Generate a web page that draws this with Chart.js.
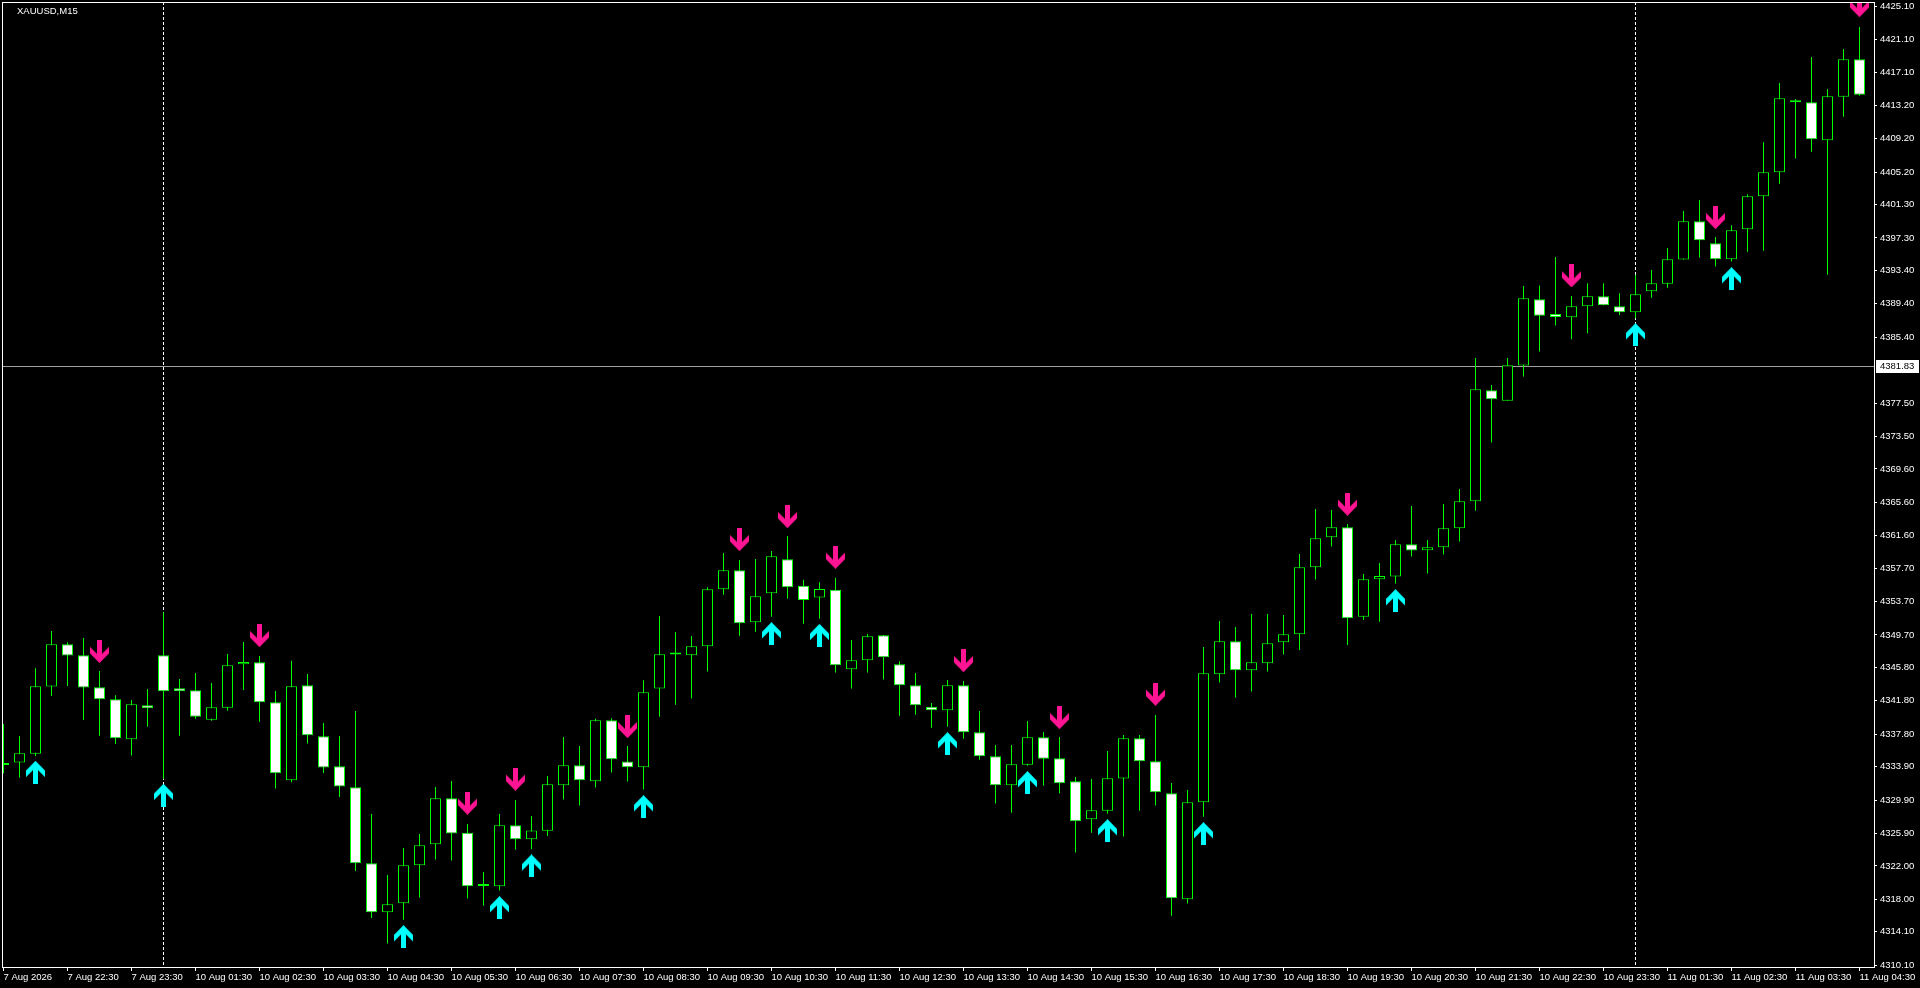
<!DOCTYPE html>
<html>
<head>
<meta charset="utf-8">
<title>XAUUSD,M15</title>
<script src="https://cdn.jsdelivr.net/npm/chart.js@4.4.1/dist/chart.umd.min.js"></script>
<style>
  html, body { margin: 0; padding: 0; background: #000; overflow: hidden; }
  #grafico { display: block; background: #000; }
</style>
</head>
<body>
<canvas id="grafico" width="1920" height="988"></canvas>
<script>
const simbolo = "XAUUSD,M15";

//one label every 4 bars (M15 -> 1 hour)
const rotulos_tempo = [
  "7 Aug 2026", "7 Aug 22:30", "7 Aug 23:30",
  "10 Aug 01:30", "10 Aug 02:30", "10 Aug 03:30", "10 Aug 04:30", "10 Aug 05:30", "10 Aug 06:30",
  "10 Aug 07:30", "10 Aug 08:30", "10 Aug 09:30", "10 Aug 10:30", "10 Aug 11:30", "10 Aug 12:30",
  "10 Aug 13:30", "10 Aug 14:30", "10 Aug 15:30", "10 Aug 16:30", "10 Aug 17:30", "10 Aug 18:30",
  "10 Aug 19:30", "10 Aug 20:30", "10 Aug 21:30", "10 Aug 22:30", "10 Aug 23:30",
  "11 Aug 01:30", "11 Aug 02:30", "11 Aug 03:30", "11 Aug 04:30"
];

const abertura = [
  4334.11, 4334.39, 4335.46, 4343.50, 4348.57, 4347.26, 4343.42, 4341.98, 4337.18, 4341.26,
  4347.26, 4343.30, 4343.06, 4339.54, 4340.98, 4346.18, 4346.42, 4341.62, 4332.27, 4343.66,
  4337.55, 4333.95, 4331.43, 4322.32, 4316.44, 4317.52, 4322.08, 4324.60, 4330.11, 4325.99,
  4319.60, 4319.56, 4326.87, 4325.20, 4326.23, 4331.67, 4334.07, 4332.15, 4339.46, 4334.51,
  4333.83, 4343.26, 4347.34, 4347.26, 4348.33, 4355.17, 4357.45, 4351.21, 4354.69, 4358.77,
  4355.60, 4354.20, 4355.10, 4345.58, 4346.65, 4349.65, 4346.17, 4343.66, 4341.10, 4340.66,
  4343.66, 4338.02, 4335.14, 4331.67, 4334.14, 4337.42, 4334.91, 4332.15, 4327.59, 4328.63,
  4332.47, 4337.31, 4334.55, 4330.71, 4318.00, 4329.63, 4344.98, 4348.94, 4345.46, 4346.30,
  4348.82, 4349.78, 4357.81, 4361.41, 4362.61, 4351.89, 4356.37, 4356.69, 4360.57, 4359.85,
  4360.21, 4362.49, 4365.72, 4379.03, 4377.79, 4381.99, 4389.94, 4388.18, 4387.78, 4389.10,
  4390.30, 4389.10, 4388.38, 4390.90, 4391.82, 4394.70, 4399.29, 4396.65, 4394.74, 4398.33,
  4402.29, 4405.17, 4413.80, 4413.56, 4409.00, 4414.24, 4418.72
];
const maxima = [
  4339.02, 4337.58, 4345.70, 4350.17, 4348.81, 4349.33, 4345.38, 4342.46, 4341.90, 4343.22,
  4352.41, 4344.42, 4345.14, 4343.94, 4347.42, 4348.85, 4347.18, 4342.98, 4346.60, 4345.00,
  4339.14, 4337.59, 4340.58, 4328.23, 4320.92, 4324.16, 4325.83, 4331.47, 4332.19, 4327.03,
  4321.28, 4328.23, 4329.91, 4327.99, 4332.79, 4337.46, 4336.38, 4339.66, 4339.70, 4336.38,
  4344.26, 4351.97, 4350.05, 4349.57, 4355.41, 4359.53, 4358.69, 4358.81, 4359.77, 4361.56,
  4356.30, 4356.00, 4356.55, 4349.09, 4349.81, 4349.69, 4346.53, 4345.14, 4341.54, 4344.30,
  4344.18, 4340.58, 4336.50, 4336.50, 4339.38, 4338.06, 4337.47, 4332.67, 4332.43, 4335.79,
  4337.71, 4337.71, 4340.10, 4331.95, 4331.11, 4348.26, 4351.37, 4350.66, 4352.21, 4352.21,
  4352.09, 4359.41, 4364.80, 4364.68, 4363.00, 4357.01, 4358.33, 4361.09, 4365.16, 4361.09,
  4365.40, 4367.20, 4382.91, 4379.67, 4382.91, 4391.54, 4391.60, 4395.00, 4390.34, 4391.86,
  4391.86, 4390.66, 4392.86, 4393.46, 4396.09, 4400.53, 4401.85, 4397.41, 4398.81, 4402.53,
  4408.76, 4415.88, 4413.96, 4419.00, 4415.16, 4419.95, 4422.59
];
const minima = [
  4333.11, 4332.59, 4335.18, 4342.38, 4343.58, 4339.50, 4337.62, 4336.62, 4335.23, 4338.70,
  4332.43, 4337.62, 4339.66, 4339.42, 4340.62, 4343.10, 4339.30, 4331.27, 4332.03, 4336.67,
  4333.15, 4330.27, 4321.40, 4315.76, 4312.69, 4315.56, 4318.20, 4322.76, 4322.64, 4318.08,
  4317.24, 4319.04, 4323.96, 4324.00, 4325.60, 4329.95, 4329.23, 4331.39, 4333.19, 4332.11,
  4331.15, 4339.90, 4341.34, 4342.06, 4345.30, 4354.53, 4349.61, 4350.09, 4351.89, 4354.05,
  4351.05, 4351.65, 4345.18, 4343.26, 4345.18, 4344.34, 4340.02, 4340.14, 4338.58, 4338.70,
  4337.26, 4334.74, 4329.47, 4328.39, 4334.02, 4331.63, 4330.71, 4323.60, 4325.99, 4328.27,
  4325.52, 4328.63, 4329.23, 4316.04, 4317.48, 4327.91, 4343.98, 4342.18, 4342.90, 4345.30,
  4347.34, 4347.90, 4356.33, 4360.29, 4348.50, 4351.49, 4351.29, 4355.85, 4359.09, 4357.05,
  4359.33, 4360.89, 4364.60, 4372.76, 4377.79, 4380.67, 4383.67, 4386.79, 4385.14, 4385.86,
  4389.22, 4388.06, 4387.66, 4390.14, 4391.34, 4394.70, 4394.94, 4393.86, 4394.46, 4395.65,
  4395.77, 4403.81, 4406.81, 4407.64, 4392.90, 4411.84, 4414.36
];
const fechamento = [
  4334.35, 4335.50, 4343.54, 4348.57, 4347.22, 4343.38, 4341.98, 4337.30, 4341.38, 4340.90,
  4342.94, 4342.94, 4339.90, 4341.02, 4346.06, 4346.46, 4341.62, 4333.11, 4343.54, 4337.67,
  4333.79, 4331.51, 4322.32, 4316.44, 4317.40, 4322.08, 4324.48, 4330.11, 4325.88, 4319.56,
  4319.60, 4326.87, 4325.20, 4326.25, 4331.79, 4334.07, 4332.27, 4339.46, 4334.79, 4333.83,
  4342.82, 4347.38, 4347.34, 4348.33, 4355.17, 4357.45, 4351.09, 4354.33, 4359.13, 4355.41,
  4353.90, 4355.20, 4346.06, 4346.65, 4349.53, 4347.01, 4343.66, 4341.26, 4340.66, 4343.66,
  4338.02, 4335.14, 4331.67, 4334.18, 4337.42, 4334.86, 4331.91, 4327.35, 4328.67, 4332.51,
  4337.31, 4334.55, 4330.83, 4318.12, 4329.63, 4345.10, 4348.94, 4345.46, 4346.42, 4348.70,
  4349.78, 4357.81, 4361.29, 4362.61, 4351.69, 4356.37, 4356.77, 4360.57, 4359.81, 4360.21,
  4362.49, 4365.72, 4379.15, 4377.95, 4382.03, 4390.06, 4387.98, 4387.82, 4389.10, 4390.30,
  4389.22, 4388.38, 4390.54, 4391.86, 4394.74, 4399.29, 4397.01, 4394.74, 4398.21, 4402.29,
  4405.17, 4414.04, 4413.56, 4409.12, 4414.28, 4418.72, 4414.48
];

//signal arrows: bar index and price where the arrow sits
const setas_venda_barras = [6, 16, 29, 32, 39, 46, 49, 52, 60, 66, 72, 84, 98, 107, 116];
const setas_venda_precos = [4347.70, 4349.61, 4329.51, 4332.39, 4338.70, 4361.12, 4363.88, 4359.00,
  4346.61, 4339.78, 4342.58, 4365.36, 4392.74, 4399.73, 4425.15];
const setas_compra_barras = [2, 10, 25, 31, 33, 40, 48, 51, 59, 64, 69, 75, 87, 102, 108];
const setas_compra_precos = [4333.23, 4330.47, 4313.52, 4317.00, 4322.00, 4329.11, 4349.85, 4349.65,
  4336.66, 4331.99, 4326.23, 4325.87, 4353.81, 4385.70, 4392.42];

const precos_eixo = [
  4425.10, 4421.10, 4417.10, 4413.20, 4409.20, 4405.20, 4401.30, 4397.30, 4393.40, 4389.40,
  4385.40, 4377.50, 4373.50, 4369.60, 4365.60, 4361.60, 4357.70, 4353.70, 4349.70, 4345.80,
  4341.80, 4337.80, 4333.90, 4329.90, 4325.90, 4322.00, 4318.00, 4314.10, 4310.10
];
const preco_linha = 4381.83;
const separadores_dia = [10, 102];

const cor_verde = "#00ff00";
const fonte_eixo = { family: "Liberation Sans", size: 9.5 };

//Wingdings style thick arrow drawn on a small canvas
function criarSeta(cor, para_baixo) {
  const tela = document.createElement("canvas");
  tela.width = 19;
  tela.height = 23;
  const g = tela.getContext("2d");
  let pontos = [[7, 0], [12, 0], [12, 13.7], [19, 6.7], [19, 13.3], [9.5, 23], [0, 13.3], [0, 6.7], [7, 13.7]];
  if (!para_baixo) pontos = pontos.map(([x, y]) => [x, 23 - y]);
  g.fillStyle = cor;
  g.beginPath();
  pontos.forEach(([x, y], k) => (k ? g.lineTo(x, y) : g.moveTo(x, y)));
  g.closePath();
  g.fill();
  return tela;
}

const indices = abertura.map((_, i) => i);

//separators, price line, frame and the symbol name
const plugin_moldura = {
  id: "moldura",
  beforeDatasetsDraw(chart) {
    const { ctx, chartArea, scales } = chart;
    ctx.save();
    ctx.strokeStyle = "#ffffff";
    ctx.lineWidth = 1;
    ctx.setLineDash([3, 2]);
    separadores_dia.forEach((barra) => {
      const x = Math.floor(scales.x.getPixelForValue(barra)) + 0.5;
      ctx.beginPath();
      ctx.moveTo(x, chartArea.top);
      ctx.lineTo(x, chartArea.bottom);
      ctx.stroke();
    });
    ctx.setLineDash([]);
    const y = Math.floor(scales.y.getPixelForValue(preco_linha)) + 0.5;
    ctx.strokeStyle = "#a0a0a0";
    ctx.beginPath();
    ctx.moveTo(chartArea.left, y);
    ctx.lineTo(chartArea.right, y);
    ctx.stroke();
    ctx.restore();
  },
  afterDraw(chart) {
    const { ctx, chartArea, scales } = chart;
    ctx.save();
    ctx.strokeStyle = "#ffffff";
    ctx.lineWidth = 1;
    ctx.strokeRect(chartArea.left + 0.5, chartArea.top + 0.5,
      chartArea.right - chartArea.left, chartArea.bottom - chartArea.top);

    const y = Math.floor(scales.y.getPixelForValue(preco_linha));
    ctx.fillStyle = "#ffffff";
    ctx.fillRect(chartArea.right + 2, y - 6, 43, 13);
    ctx.fillStyle = "#000000";
    ctx.font = "9.5px 'Liberation Sans'";
    ctx.textBaseline = "middle";
    ctx.fillText(preco_linha.toFixed(2), chartArea.right + 6, y + 0.5);

    ctx.fillStyle = "#ffffff";
    ctx.fillText(simbolo, 17, 11);
    ctx.restore();
  }
};

new Chart(document.getElementById("grafico"), {
  type: "bar",
  data: {
    datasets: [
      {
        type: "scatter",
        data: setas_venda_barras.map((b, k) => ({ x: b, y: setas_venda_precos[k] })),
        pointStyle: criarSeta("#ff1493", true),
        order: 1,
        clip: 0,
      },
      {
        type: "scatter",
        data: setas_compra_barras.map((b, k) => ({ x: b, y: setas_compra_precos[k] })),
        pointStyle: criarSeta("#00ffff", false),
        order: 1,
        clip: 0,
      },
      {
        data: indices.map((i) => ({ x: i, y: [abertura[i], fechamento[i]] })),
        backgroundColor: (c) => (fechamento[c.dataIndex] < abertura[c.dataIndex] ? "#ffffff" : "#000000"),
        borderColor: cor_verde,
        borderWidth: 1,
        borderSkipped: false,
        barThickness: 11,
        maxBarThickness: 11,
        minBarLength: 2,
        inflateAmount: 0,
        grouped: false,
        order: 2,
        clip: 0,
      },
      {
        data: indices.map((i) => ({ x: i, y: [minima[i], maxima[i]] })),
        backgroundColor: cor_verde,
        borderWidth: 0,
        barThickness: 1,
        maxBarThickness: 1,
        inflateAmount: 0,
        grouped: false,
        order: 3,
        clip: 0,
      },
    ],
  },
  options: {
    responsive: false,
    animation: false,
    events: [],
    layout: { autoPadding: false, padding: { left: 2, top: 2, right: 0, bottom: 0 } },
    plugins: {
      legend: { display: false },
      tooltip: { enabled: false },
      title: { display: false },
    },
    scales: {
      x: {
        type: "linear",
        min: -0.09375,
        max: 116.90625,
        offset: false,
        afterBuildTicks: (escala) => {
          escala.ticks = rotulos_tempo.map((_, k) => ({ value: k * 4 }));
        },
        afterFit: (escala) => {
          escala.height = 21;
          escala.paddingLeft = 0;
          escala.paddingRight = 0;
        },
        grid: { drawOnChartArea: false, drawTicks: true, tickLength: 4, color: "#ffffff", offset: false },
        border: { display: false },
        ticks: {
          autoSkip: false,
          maxRotation: 0,
          minRotation: 0,
          align: "start",
          labelOffset: 0,
          padding: 1,
          color: "#ffffff",
          font: fonte_eixo,
          callback: (valor) => rotulos_tempo[Math.round(valor / 4)],
        },
      },
      y: {
        position: "right",
        min: 4309.88,
        max: 4425.59,
        afterBuildTicks: (escala) => {
          escala.ticks = precos_eixo.map((p) => ({ value: p }));
        },
        afterFit: (escala) => {
          escala.width = 46;
          escala.paddingTop = 0;
          escala.paddingBottom = 0;
        },
        grid: { drawOnChartArea: false, drawTicks: true, tickLength: 3, color: "#ffffff" },
        border: { display: false },
        ticks: {
          autoSkip: false,
          padding: 3,
          color: "#ffffff",
          font: fonte_eixo,
          callback: (valor) => valor.toFixed(2),
        },
      },
    },
  },
  plugins: [plugin_moldura],
});
</script>
</body>
</html>
